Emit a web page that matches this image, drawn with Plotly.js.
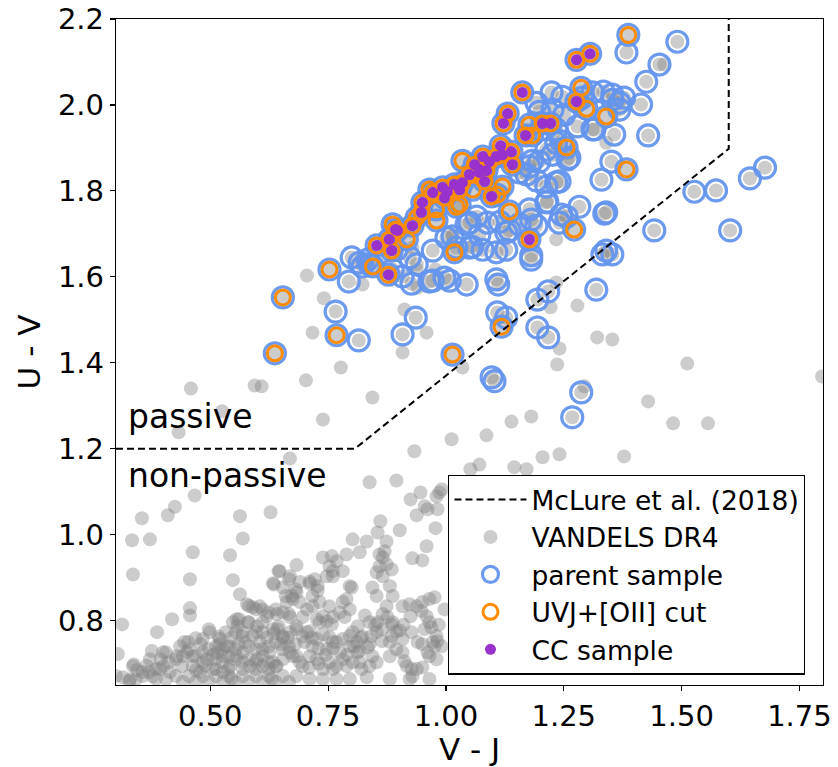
<!DOCTYPE html>
<html>
<head>
<meta charset="utf-8">
<script src="https://cdn.plot.ly/plotly-3.0.1.min.js"></script>
<style>html,body{margin:0;padding:0;background:#fff;}#chart{width:838px;height:767px;}</style>
</head>
<body>
<div id="chart"></div>
<script>
// McLure et al. (2018) passive selection boundary
const mclureX = [0.3, 0.807, 1.6, 1.6];
const mclureY = [1.2, 1.2, 1.898, 2.2];

// CC sample (purple)
const ccX = [1.277,1.306,1.162,1.277,1.131,1.122,1.205,1.222,1.169,1.116,1.139,1.107,1.078,1.12,1.141,1.061,1.071,1.086,1.092,1.05,1.071,1.082,1.018,1.029,1.035,0.993,1.003,0.972,0.997,0.95,1.097,0.948,0.929,0.897,0.88,0.885,1.177,0.853,0.878,0.893];
const ccY = [2.105,2.119,2.029,2.008,1.98,1.957,1.957,1.957,1.929,1.905,1.891,1.88,1.88,1.884,1.861,1.861,1.85,1.847,1.868,1.838,1.843,1.822,1.815,1.803,1.819,1.808,1.798,1.796,1.784,1.773,1.787,1.75,1.719,1.708,1.687,1.661,1.687,1.673,1.605,1.71];

// UVJ+[OII] cut members that are not in the CC sample (orange only)
const oiiOnlyX = [1.387,1.287,1.298,1.34,1.256,1.383,1.272,1.135,1.018,0.98,1.022,1.12,1.014,1.118,0.753,0.654,0.637,0.768,0.845,0.887,0.917,0.965,0.938,1.029,1.109,1.183,1.177,0.979,1.057,1.035];
const oiiOnlyY = [2.163,2.04,1.991,1.973,1.901,1.85,1.71,1.752,1.657,1.731,1.763,1.81,1.419,1.484,1.617,1.552,1.422,1.464,1.624,1.722,1.687,1.803,1.738,1.768,1.791,1.929,1.954,1.757,1.803,1.87];

// parent sample members not in the UVJ+[OII] cut (blue only)
const parentOnlyX = [1.491,1.383,1.453,1.425,1.353,1.368,1.378,1.414,1.357,1.429,1.351,1.33,1.527,1.573,1.645,1.677,1.336,1.442,1.603,1.332,1.353,1.319,1.315,1.262,1.241,1.283,1.241,1.334,1.368,1.181,0.997,1.008,1.044,1.111,1.194,1.217,1.109,1.128,1.194,1.217,1.097,1.103,1.287,1.268,0.794,0.766,0.815,0.908,0.936,0.927,0.972,0.8,0.817,0.834,0.887,0.908,1.256,1.215,1.177,1.088,1.114,1.128,1.065,1.05,1.014,1.056,1.078,1.107,1.128,1.107,1.213,1.198,1.177,1.156,1.279,1.245,1.234,1.226,1.192,1.247,1.289,1.224,1.198,1.251,1.311,1.353,1.311,1.234,1.213,1.226,1.258,1.183,1.171,1.192,1.234,1.213,1.181,1.192,1.245,1.34,1.156,1.135,1.071,1.044,1.022,1.05,1.181,1.34,0.923,0.938,1.001,0.972,0.838,0.965,0.895,0.823];
const parentOnlyY = [2.147,2.122,2.094,2.054,2.012,2.005,2.017,2.001,1.931,1.929,1.868,1.826,1.798,1.801,1.829,1.854,1.747,1.708,1.708,1.652,1.652,1.57,1.943,1.877,1.822,1.763,1.726,2.031,1.989,1.64,1.598,1.591,1.582,1.582,1.547,1.566,1.517,1.505,1.482,1.459,1.366,1.357,1.331,1.273,1.589,1.519,1.452,1.466,1.505,1.584,1.591,1.645,1.633,1.64,1.617,1.601,1.74,1.775,1.757,1.726,1.728,1.703,1.74,1.726,1.694,1.67,1.663,1.657,1.663,1.594,1.81,1.868,1.857,1.843,1.95,1.915,1.943,1.989,2.005,2.019,2.017,2.029,1.984,1.977,2.029,2.024,1.943,1.912,1.896,1.884,1.873,1.87,1.838,1.824,1.82,1.773,1.733,1.719,1.745,1.75,1.722,1.708,1.698,1.722,1.668,1.668,1.65,1.661,1.645,1.629,1.691,1.661,1.629,1.589,1.663,1.624];

// VANDELS DR4 galaxies outside the parent sample (grey only)
const vandelsOnlyX = [0.705,0.741,0.717,0.777,0.703,0.594,0.609,0.459,0.525,0.433,0.739,0.844,0.669,0.933,1.012,0.912,0.959,0.908,0.823,0.94,0.938,1.014,1.234,1.222,1.279,1.321,1.353,1.241,1.236,1.512,1.798,1.429,1.294,1.482,1.556,1.035,1.139,1.181,1.086,1.205,1.241,1.378,1.071,1.145,1.171,1.052,1.234,1.34,0.929,1.463,0.978,0.838,0.895,
0.425,0.467,0.41,0.355,0.334,0.372,0.563,0.628,0.569,0.463,0.542,0.336,0.457,0.548,0.563,0.313,0.387,0.419,0.457,0.457,0.925,0.946,0.986,0.98,0.991,0.955,0.961,0.938,0.982,0.978,0.902,0.861,0.855,0.874,0.802,0.832,0.817,0.789,0.959,0.929,0.95,0.859,0.866,0.859,0.874,0.885,0.853,0.866,0.739,0.758,0.768,0.753,0.76,0.781,0.647,0.683,0.669,0.633,0.711,0.722,0.728,0.69,0.747,0.796,0.844,0.881,0.887,0.853,0.874,0.866,0.885,0.908,0.923,0.938,0.95,0.965,0.976,0.948,0.959,0.965,0.969,0.997,0.982,0.976,0.95,0.961,0.927,0.908,0.908,0.912,0.927,0.929,0.95,0.965,0.98,0.881,0.895,0.853,0.864,0.834,0.844,0.813,0.802,0.823,0.781,0.789,0.796,0.775,0.753,0.739,0.747,0.726,0.717,0.705,0.683,0.673,0.662,0.654,0.641,0.62,0.605,0.59,0.578,0.611,0.599,0.58,0.556,0.558,0.569,0.643,0.654,0.669,0.683,0.696,0.711,0.726,0.739,0.753,0.768,0.781,0.796,0.813,0.802,0.781,0.768,0.753,0.739,0.726,0.711,0.696,0.683,0.669,0.654,0.641,0.626,0.611,0.599,0.584,0.569,0.556,0.542,0.527,0.499,0.52,0.535,0.514,0.493,0.506,0.527,0.478,0.463,0.45,0.44,0.414,0.393,0.378,0.357,0.336,0.33,0.315,0.4,0.372,0.429,0.436,0.453,0.469,0.376,0.338,0.406,0.304,0.3,
0.582,0.597,0.611,0.624,0.639,0.667,0.675,0.681,0.667,0.645,0.635,0.654,0.66,0.561,0.548,0.582,0.597,0.611,0.569,0.554,0.533,0.518,0.497,0.484,0.633,0.645,0.654,0.639,0.624,0.654,0.667,0.675,0.633,0.611,0.597,0.582,0.554,0.54,0.527,0.512,0.497,0.484,0.469,0.455,0.442,0.427,0.412,0.4,0.385,0.37,0.357,0.342,0.328,
0.654,0.624,0.597,0.569,0.539,0.512,0.484,0.455,0.427,0.406,0.442,0.469,0.497,0.527,0.554,0.582,0.611,0.639,0.667,
0.512,0.527,0.539,0.554,0.569,0.582,0.597,0.611,0.624,0.639,0.512,0.539,0.569,0.597,0.624,0.484,0.463,
0.87,0.711,0.728,0.76,0.8,0.76,0.732,0.758,0.785,0.828,0.838,0.855,0.876,0.887,0.902,0.94,0.885,0.842,0.838,0.811,0.817,0.796,0.705,0.683,0.717,0.747,0.76,0.789,0.817,0.821,0.838,0.853,0.881,0.917,0.938,0.991,0.972,0.98,0.69,0.76,0.683,0.711,0.739,0.768,0.796,0.832,0.881,0.923,0.965,0.69,0.669,0.696,0.717,0.732,
0.47,0.49,0.505,0.52,0.545,0.56,0.575,0.59,0.605,0.62,0.635,0.65,0.665,0.68,0.7,0.715,0.73,0.745,0.76,0.775,0.79,0.805,0.82,0.85,0.865,0.895,0.91,0.925,0.955,0.985,0.48,0.445,0.395,0.365,0.345,0.385,0.545,0.63,0.71,0.73];
const vandelsOnlyY = [1.603,1.55,1.47,1.389,1.359,1.347,1.345,1.34,1.287,1.238,1.268,1.319,1.177,1.194,1.222,1.524,1.47,1.424,1.582,1.575,1.617,1.698,1.587,1.529,1.533,1.459,1.454,1.433,1.396,1.398,1.368,1.31,1.345,1.259,1.259,1.389,1.263,1.275,1.231,1.18,1.187,1.182,1.163,1.157,1.152,1.152,1.687,1.912,1.668,2.094,1.617,1.122,1.126,
1.065,1.091,1.045,1.038,0.987,0.989,1.043,1.052,0.991,0.959,0.952,0.907,0.896,0.894,0.861,0.791,0.773,0.803,0.829,0.812,1.082,1.098,1.098,1.089,1.105,1.066,1.059,1.045,1.059,1.015,1.01,1.031,1.005,0.984,0.989,0.984,0.959,0.954,0.973,0.945,0.94,0.954,0.947,0.926,0.931,0.919,0.912,0.903,0.947,0.95,0.938,0.926,0.915,0.915,0.915,0.929,0.903,0.887,0.891,0.896,0.88,0.89,0.903,0.88,0.877,0.88,0.857,0.857,0.833,0.815,0.791,0.833,0.838,0.833,0.843,0.85,0.854,0.822,0.81,0.796,0.784,0.826,0.752,0.74,0.745,0.726,0.773,0.757,0.726,0.705,0.687,0.67,0.691,0.717,0.71,0.75,0.733,0.773,0.752,0.738,0.717,0.787,0.773,0.763,0.843,0.85,0.826,0.819,0.833,0.81,0.798,0.803,0.833,0.826,0.866,0.857,0.843,0.819,0.815,0.81,0.833,0.831,0.838,0.796,0.787,0.796,0.803,0.787,0.773,0.78,0.761,0.773,0.787,0.763,0.775,0.757,0.768,0.761,0.75,0.757,0.74,0.726,0.703,0.71,0.694,0.703,0.687,0.71,0.717,0.694,0.717,0.726,0.71,0.694,0.726,0.733,0.71,0.694,0.726,0.717,0.694,0.717,0.773,0.757,0.74,0.726,0.71,0.687,0.68,0.68,0.717,0.726,0.694,0.68,0.687,0.67,0.68,0.694,0.663,0.668,0.726,0.71,0.717,0.74,0.75,0.759,0.729,0.698,0.726,0.722,0.671,
0.834,0.826,0.826,0.819,0.826,0.815,0.85,0.873,0.896,0.915,0.884,0.877,0.857,0.803,0.796,0.796,0.773,0.773,0.763,0.773,0.773,0.763,0.78,0.757,0.78,0.787,0.763,0.75,0.74,0.733,0.74,0.717,0.703,0.717,0.733,0.74,0.733,0.74,0.733,0.74,0.733,0.726,0.717,0.733,0.717,0.71,0.703,0.694,0.687,0.68,0.671,0.663,0.659,
0.671,0.671,0.671,0.671,0.671,0.671,0.671,0.671,0.671,0.663,0.657,0.657,0.657,0.657,0.657,0.657,0.657,0.657,0.657,
0.71,0.703,0.717,0.71,0.703,0.71,0.703,0.694,0.703,0.694,0.687,0.687,0.687,0.687,0.687,0.703,0.694,
0.961,0.886,0.87,0.903,0.877,0.808,0.796,0.791,0.808,0.812,0.796,0.796,0.808,0.796,0.777,0.75,0.764,0.764,0.745,0.75,0.729,0.764,0.773,0.78,0.74,0.733,0.75,0.694,0.703,0.687,0.694,0.703,0.717,0.694,0.687,0.74,0.75,0.764,0.703,0.687,0.671,0.664,0.664,0.664,0.664,0.668,0.664,0.664,0.664,0.843,0.808,0.808,0.857,0.843,
0.685,0.695,0.72,0.745,0.76,0.745,0.75,0.765,0.75,0.76,0.77,0.745,0.76,0.745,0.75,0.76,0.735,0.72,0.735,0.725,0.72,0.74,0.76,0.79,0.78,0.775,0.79,0.81,0.78,0.79,0.745,0.75,0.71,0.695,0.685,0.665,0.665,0.665,0.69,0.7];

// tick labels
const xTickVals = [0.5, 0.75, 1.0, 1.25, 1.5, 1.75];
const xTickText = ['0.50', '0.75', '1.00', '1.25', '1.50', '1.75'];
const yTickVals = [0.8, 1.0, 1.2, 1.4, 1.6, 1.8, 2.0, 2.2];
const yTickText = ['0.8', '1.0', '1.2', '1.4', '1.6', '1.8', '2.0', '2.2'];

// subsets are nested: CC ⊂ UVJ+[OII] ⊂ parent ⊂ VANDELS
const oiiX = ccX.concat(oiiOnlyX), oiiY = ccY.concat(oiiOnlyY);
const parentX = oiiX.concat(parentOnlyX), parentY = oiiY.concat(parentOnlyY);
const vandelsX = parentX.concat(vandelsOnlyX), vandelsY = parentY.concat(vandelsOnlyY);

const FONT = 'DejaVu Sans';

const traces = [
  {x: vandelsX, y: vandelsY, type: 'scatter', mode: 'markers', name: 'VANDELS DR4',
   legendrank: 2, legendgroup: 'g2',
   marker: {size: 14, color: 'rgba(128,128,128,0.4)', line: {width: 0}}},
  {x: parentX, y: parentY, type: 'scatter', mode: 'markers', name: 'parent sample',
   legendrank: 3, legendgroup: 'g3',
   marker: {size: 21, symbol: 'circle-open', color: 'rgba(100,149,237,0.95)', line: {width: 3.2, color: 'rgba(100,149,237,0.95)'}}},
  {x: oiiX, y: oiiY, type: 'scatter', mode: 'markers', name: 'UVJ+[OII] cut',
   legendrank: 4, legendgroup: 'g4',
   marker: {size: 15, symbol: 'circle-open', color: '#FF8C00', line: {width: 3, color: '#FF8C00'}}},
  {x: ccX, y: ccY, type: 'scatter', mode: 'markers', name: 'CC sample',
   legendrank: 5, legendgroup: 'g5',
   marker: {size: 11, color: '#9932CC', line: {width: 0}}},
  {x: mclureX, y: mclureY, type: 'scatter', mode: 'lines', name: 'McLure et al. (2018)',
   legendrank: 1, legendgroup: 'g1',
   line: {color: '#000', width: 2, dash: '7px,4px'}}
];

const layout = {
  width: 838, height: 767,
  margin: {l: 116, r: 15, t: 19, b: 82, pad: 0},
  paper_bgcolor: '#fff', plot_bgcolor: '#fff',
  font: {family: FONT, color: '#000'},
  showlegend: true,
  hovermode: false,
  xaxis: {
    range: [0.3, 1.8], tickvals: xTickVals, ticktext: xTickText,
    ticks: 'outside', ticklen: 5, tickwidth: 1.2, tickcolor: '#000',
    showline: true, linecolor: '#000', linewidth: 1.2, mirror: true,
    showgrid: false, zeroline: false,
    tickfont: {family: FONT, size: 29, color: '#000'},
    title: {text: 'V - J', font: {family: FONT, size: 31, color: '#000'}, standoff: 6}
  },
  yaxis: {
    range: [0.65, 2.2], tickvals: yTickVals, ticktext: yTickText,
    ticks: 'outside', ticklen: 5, tickwidth: 1.2, tickcolor: '#000',
    showline: true, linecolor: '#000', linewidth: 1.2, mirror: true,
    showgrid: false, zeroline: false,
    tickfont: {family: FONT, size: 29, color: '#000'},
    title: {text: 'U - V', font: {family: FONT, size: 31, color: '#000'}, standoff: 8}
  },
  legend: {
    x: 0.47, y: 0.316, xanchor: 'left', yanchor: 'top',
    bgcolor: 'rgba(255,255,255,0.85)', bordercolor: '#000', borderwidth: 1.2,
    font: {family: FONT, size: 26.5, color: '#000'},
    itemwidth: 72, tracegroupgap: 9, traceorder: 'normal'
  },
  annotations: [
    {x: 0.322, y: 1.275, xref: 'x', yref: 'y', text: 'passive', showarrow: false,
     xanchor: 'left', yanchor: 'middle', font: {family: FONT, size: 33, color: '#000'}},
    {x: 0.322, y: 1.138, xref: 'x', yref: 'y', text: 'non-passive', showarrow: false,
     xanchor: 'left', yanchor: 'middle', font: {family: FONT, size: 33, color: '#000'}}
  ]
};

Plotly.newPlot('chart', traces, layout, {displayModeBar: false, staticPlot: true});
</script>
</body>
</html>
